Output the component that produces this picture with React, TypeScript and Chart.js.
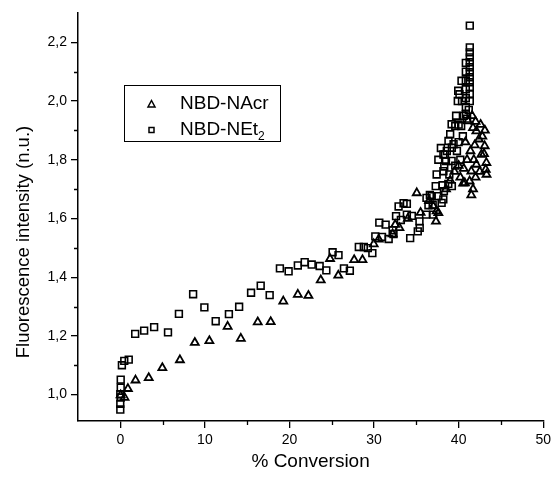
import React, { useEffect, useRef } from "react";
import { Chart, registerables } from "chart.js";
Chart.register(...registerables);

const X_TITLE = "% Conversion";
const Y_TITLE = "Fluorescence intensity (n.u.)";
const SERIES_NAMES = ["NBD-NAcr", "NBD-NEt"];
const X_TICKS = [0, 10, 20, 30, 40, 50];
const X_MINOR = [5, 15, 25, 35, 45];
const Y_TICKS = [1.0, 1.2, 1.4, 1.6, 1.8, 2.0, 2.2];
const Y_MINOR = [1.1, 1.3, 1.5, 1.7, 1.9, 2.1];

// NBD-NAcr (triangles)
const NACR_X = [0.04, 0.5, 0.9, 1.8, 3.36, 4.97, 7.05, 8.81, 10.53, 12.69, 14.25, 16.25, 17.78, 19.27, 20.99, 22.24, 23.7, 24.8, 25.77, 27.65, 28.63, 29.96, 30.55, 32.5, 32.2, 33.0, 35.05, 37.0, 37.6, 37.32, 37.4, 34.0, 35.5, 36.5, 38.5, 39.0, 39.5, 40.0, 40.54, 40.73, 41.3, 41.5, 42.1, 42.7, 43.08, 43.28, 43.2, 42.1, 41.7, 41.1, 41.6, 42.0, 42.4, 42.8, 43.0, 41.9, 41.4, 41.0, 40.6, 40.2, 42.5, 43.3, 42.0, 41.8, 40.8, 43.1, 42.6, 41.5, 41.7];
const NACR_Y = [0.998, 0.99, 1.02, 1.049, 1.057, 1.091, 1.118, 1.177, 1.183, 1.232, 1.191, 1.247, 1.248, 1.318, 1.341, 1.337, 1.39, 1.463, 1.406, 1.459, 1.459, 1.513, 1.529, 1.579, 1.547, 1.568, 1.687, 1.642, 1.619, 1.59, 1.625, 1.6, 1.62, 1.66, 1.7, 1.73, 1.76, 1.78, 1.72, 1.721, 1.727, 1.761, 1.784, 1.818, 1.847, 1.79, 1.767, 1.898, 1.909, 1.932, 1.95, 1.93, 1.87, 1.88, 1.82, 1.85, 1.83, 1.8, 1.77, 1.74, 1.76, 1.75, 1.74, 1.8, 1.86, 1.9, 1.92, 1.68, 1.7];

// NBD-NEt2 (squares)
const NET2_X = [0.0, 0.0, 0.05, 0.0, 0.05, 0.05, 0.19, 0.47, 1.0, 1.76, 2.82, 4.0, 5.64, 6.93, 8.61, 9.94, 11.28, 12.84, 14.05, 15.46, 16.6, 17.66, 18.87, 19.9, 20.99, 21.8, 22.63, 23.57, 24.36, 25.1, 25.8, 26.44, 27.14, 28.2, 28.79, 29.26, 29.8, 30.15, 30.94, 31.73, 30.62, 31.37, 32.3, 32.6, 32.2, 32.9, 33.49, 33.17, 33.88, 33.88, 34.47, 34.27, 35.17, 35.37, 35.4, 36.15, 36.43, 36.8, 36.93, 37.0, 37.6, 38.19, 38.26, 37.29, 38.1, 38.78, 37.99, 36.2, 36.6, 37.4, 38.2, 38.9, 39.2, 38.2, 38.6, 39.2, 39.4, 39.17, 38.37, 38.5, 38.3, 39.17, 39.0, 38.8, 39.6, 40.0, 40.3, 39.95, 40.1, 39.9, 40.34, 40.85, 40.85, 40.85, 40.85, 40.85, 40.85, 40.85, 41.32, 41.32, 41.32, 41.32, 41.32, 41.32, 41.32, 41.32, 41.32, 41.32, 41.32, 41.32, 41.2, 41.0, 40.5, 40.0, 39.8, 40.2, 39.6, 40.6, 40.4, 39.7, 37.6, 37.9];
const NET2_Y = [0.949, 0.969, 0.99, 1.001, 1.024, 1.051, 1.1, 1.115, 1.119, 1.207, 1.218, 1.23, 1.212, 1.275, 1.342, 1.297, 1.25, 1.274, 1.299, 1.347, 1.371, 1.339, 1.43, 1.42, 1.44, 1.451, 1.443, 1.438, 1.423, 1.485, 1.475, 1.43, 1.422, 1.503, 1.503, 1.499, 1.482, 1.539, 1.537, 1.53, 1.586, 1.579, 1.547, 1.608, 1.56, 1.641, 1.652, 1.595, 1.65, 1.613, 1.609, 1.533, 1.556, 1.59, 1.568, 1.613, 1.645, 1.676, 1.647, 1.613, 1.676, 1.665, 1.693, 1.71, 1.713, 1.718, 1.653, 1.67, 1.68, 1.75, 1.761, 1.75, 1.71, 1.818, 1.83, 1.841, 1.853, 1.796, 1.818, 1.796, 1.777, 1.921, 1.887, 1.864, 1.915, 1.92, 1.915, 2.035, 2.023, 2.0, 2.069, 2.13, 2.1, 2.07, 2.04, 2.01, 1.98, 1.955, 2.257, 2.183, 2.166, 2.149, 2.132, 2.115, 2.098, 2.081, 2.064, 2.047, 2.024, 2.0, 1.97, 1.94, 1.88, 1.86, 1.83, 1.8, 1.78, 1.95, 2.0, 1.95, 1.8, 1.84];

const FONT = '"Liberation Sans", Arial, sans-serif';

const toPoints = (xs: number[], ys: number[]) => xs.map((x, i) => ({ x, y: ys[i] }));

const decorPlugin = {
  id: "decor",
  afterDraw(chart: any) {
    const ctx = chart.ctx;
    const xs = chart.scales.x;
    const ys = chart.scales.y;
    const area = chart.chartArea;
    ctx.save();
    ctx.strokeStyle = "#000";
    ctx.lineWidth = 1.3;
    // minor ticks
    ctx.beginPath();
    X_MINOR.forEach((v) => {
      const px = Math.round(xs.getPixelForValue(v)) + 0.5;
      ctx.moveTo(px, area.bottom);
      ctx.lineTo(px, area.bottom + 4);
    });
    Y_MINOR.forEach((v) => {
      const py = Math.round(ys.getPixelForValue(v)) + 0.5;
      ctx.moveTo(area.left, py);
      ctx.lineTo(area.left - 4, py);
    });
    ctx.stroke();

    // axis titles
    ctx.fillStyle = "#000";
    ctx.textAlign = "center";
    ctx.textBaseline = "middle";
    ctx.font = `19px ${FONT}`;
    ctx.fillText(X_TITLE, (area.left + area.right) / 2, 462);
    ctx.save();
    ctx.translate(24, 242);
    ctx.rotate(-Math.PI / 2);
    ctx.font = `18.5px ${FONT}`;
    ctx.fillText(Y_TITLE, 0, 0);
    ctx.restore();

    // legend
    ctx.lineWidth = 1;
    ctx.strokeRect(124.5, 85.5, 156, 56);
    ctx.lineWidth = 1.5;
    // triangle marker
    ctx.beginPath();
    ctx.moveTo(151.5, 100.5);
    ctx.lineTo(155, 107);
    ctx.lineTo(148, 107);
    ctx.closePath();
    ctx.stroke();
    // square marker
    ctx.strokeRect(149, 127.5, 5, 5);
    ctx.font = `19px ${FONT}`;
    ctx.textAlign = "left";
    ctx.fillText(SERIES_NAMES[0], 180, 104);
    ctx.fillText(SERIES_NAMES[1], 180, 130);
    const w = ctx.measureText(SERIES_NAMES[1]).width;
    ctx.font = `12px ${FONT}`;
    ctx.fillText("2", 180 + w, 137);
    ctx.restore();
  },
};

export default function App() {
  const ref = useRef<HTMLCanvasElement | null>(null);
  useEffect(() => {
    if (!ref.current) return;
    const chart = new Chart(ref.current, {
      type: "scatter",
      data: {
        datasets: [
          {
            label: SERIES_NAMES[0],
            data: toPoints(NACR_X, NACR_Y),
            pointStyle: "triangle",
            pointRadius: 4.6,
            pointBorderWidth: 1.8,
            pointBorderColor: "#000",
            pointBackgroundColor: "rgba(0,0,0,0)",
          },
          {
            label: SERIES_NAMES[1] + "2",
            data: toPoints(NET2_X, NET2_Y),
            pointStyle: "rect",
            pointRadius: 4.8,
            pointBorderWidth: 1.6,
            pointBorderColor: "#000",
            pointBackgroundColor: "rgba(0,0,0,0)",
          },
        ],
      },
      options: {
        responsive: false,
        animation: false,
        devicePixelRatio: 1,
        layout: { padding: { left: 0, top: 13, right: 8, bottom: 0 } },
        plugins: { legend: { display: false }, tooltip: { enabled: false } },
        scales: {
          x: {
            type: "linear",
            min: -5,
            max: 50,
            afterBuildTicks: (s: any) => {
              s.ticks = X_TICKS.map((v) => ({ value: v }));
            },
            afterFit: (s: any) => {
              s.height = 57;
            },
            ticks: {
              color: "#000",
              font: { size: 14, family: FONT },
              padding: 4,
              maxRotation: 0,
              autoSkip: false,
              callback: (v: any) => String(v),
            },
            grid: { drawOnChartArea: false, drawTicks: true, tickLength: 7, color: "#000", lineWidth: 1.3 },
            border: { display: true, color: "#000", width: 1.5 },
          },
          y: {
            type: "linear",
            min: 0.91,
            max: 2.3,
            afterBuildTicks: (s: any) => {
              s.ticks = Y_TICKS.map((v) => ({ value: v }));
            },
            afterFit: (s: any) => {
              s.width = 78;
            },
            ticks: {
              color: "#000",
              font: { size: 14, family: FONT },
              padding: 4,
              autoSkip: false,
              callback: (v: any) => Number(v).toFixed(1).replace(".", ","),
            },
            grid: { drawOnChartArea: false, drawTicks: true, tickLength: 7, color: "#000", lineWidth: 1.3 },
            border: { display: true, color: "#000", width: 1.5 },
          },
        },
      },
      plugins: [decorPlugin],
    });
    return () => chart.destroy();
  }, []);
  return (
    <div style={{ position: "absolute", left: 0, top: 0, width: 555, height: 478, background: "#fff" }}>
      <canvas ref={ref} width={555} height={478} style={{ display: "block", width: 555, height: 478 }} />
    </div>
  );
}
